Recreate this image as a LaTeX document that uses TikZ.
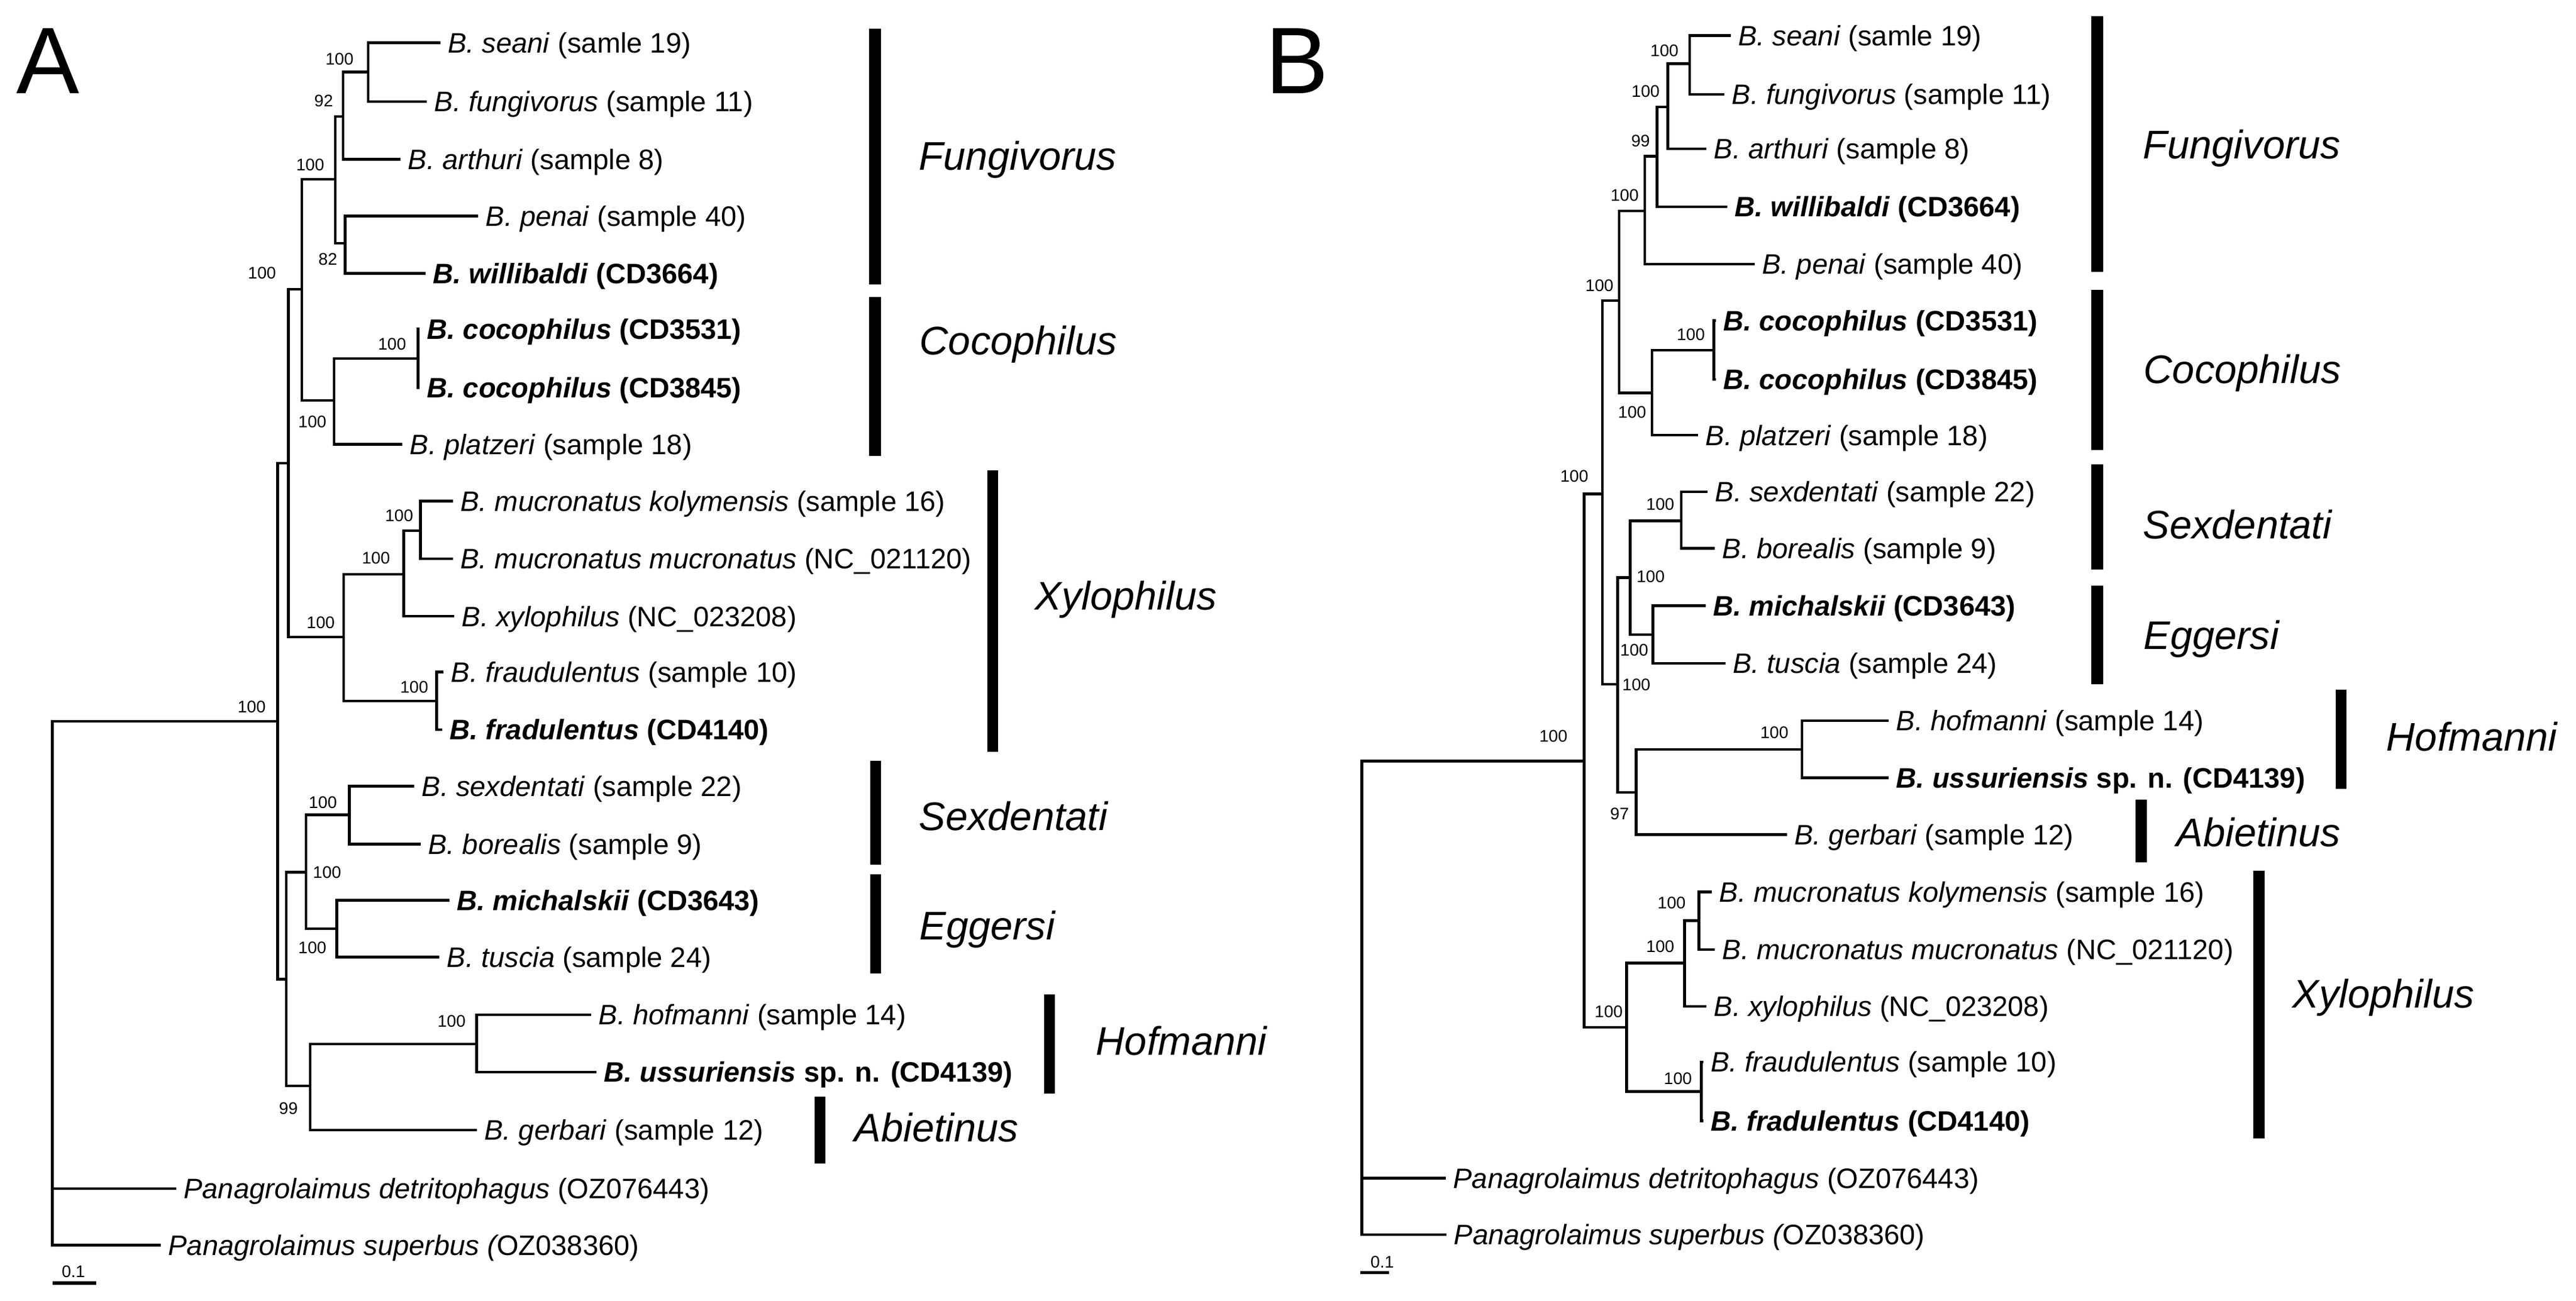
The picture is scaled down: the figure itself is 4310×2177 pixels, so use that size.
\documentclass[tikz,border=0pt]{standalone}
\usepackage{fontspec}
\setmainfont{Liberation Sans}
\usetikzlibrary{positioning}
\newcommand\leaffont{\fontsize{13.4}{16}\selectfont}
\newcommand\bootfont{\fontsize{8}{9.6}\selectfont}
\newcommand\cladefont{\fontsize{19}{23}\selectfont\itshape}
\newcommand\panelfont{\fontsize{45}{54}\selectfont}

\begin{document}
\begin{tikzpicture}[x=0.1mm, y=-0.1mm, node distance=1.2mm,
    branch/.style={line width=1.3pt},
    leaf/.style={inner sep=0pt, text height=9.6pt, text depth=0pt, font=\leaffont},
    boot/.style={inner sep=0pt, text height=5.7pt, text depth=0pt, font=\bootfont},
    clade/.style={anchor=west, inner sep=0pt, text height=13.6pt, text depth=0pt, font=\cladefont},
    cladebar/.style={fill=black},
    panel/.style={inner sep=0pt, text height=32.2pt, text depth=0pt, font=\panelfont}]
    \useasboundingbox (0,0) rectangle (4310,2177);

    % panel A
    \node[panel] (A) at (80.7,100) {A};
    \coordinate (aR) at (87.7,1700);
    \coordinate (aI) at (464.4,1206.8);
    \coordinate (aX1) at (482.6,775);
    \coordinate (aFC) at (505,484);
    \coordinate (aFu) at (561,300.2);
    \coordinate (aSFA) at (573.8,195);
    \coordinate (aSF) at (616,120.7);
    \coordinate (aPW) at (577.3,407);
    \coordinate (aCo) at (559,670);
    \coordinate (aCC) at (699.4,599.8);
    \coordinate (aXy) at (575.2,1066);
    \coordinate (aMX) at (675.5,961);
    \coordinate (aMM) at (703.6,888);
    \coordinate (aFF) at (730.5,1173.1);
    \coordinate (aX2) at (479.1,1638.2);
    \coordinate (aSE) at (512.1,1459.3);
    \coordinate (aSB) at (584.4,1363.2);
    \coordinate (aMT) at (563.3,1554);
    \coordinate (aHA) at (519.1,1817.1);
    \coordinate (aHU) at (797.6,1746.9);

    \coordinate (aL0) at (736.6,71.6);
    \coordinate (aL1) at (714,169.8);
    \coordinate (aL2) at (670,266.6);
    \coordinate (aL3) at (800,361.3);
    \coordinate (aL4) at (712,457.4);
    \coordinate (aL5) at (702,550.7);
    \coordinate (aL6) at (702,648.9);
    \coordinate (aL7) at (673,743.6);
    \coordinate (aL8) at (757.6,838.3);
    \coordinate (aL9) at (757.6,935.1);
    \coordinate (aL10) at (760,1031.2);
    \coordinate (aL11) at (742,1124.7);
    \coordinate (aL12) at (740,1220.8);
    \coordinate (aL13) at (693,1315.5);
    \coordinate (aL14) at (703.6,1412.3);
    \coordinate (aL15) at (752,1506.3);
    \coordinate (aL16) at (735,1601.7);
    \coordinate (aL17) at (989,1697.8);
    \coordinate (aL18) at (997.5,1794);
    \coordinate (aL19) at (797.6,1890.8);
    \coordinate (aL20) at (294.6,1989);
    \coordinate (aL21) at (268.7,2083.7);

    \foreach \p/\c in {aR/aI, aR/aL20, aR/aL21, aI/aX1, aI/aX2, aX1/aFC, aX1/aXy,
        aFC/aFu, aFC/aCo, aFu/aSFA, aFu/aPW, aSFA/aSF, aSFA/aL2, aSF/aL0, aSF/aL1,
        aPW/aL3, aPW/aL4, aCo/aCC, aCo/aL7, aCC/aL5, aCC/aL6, aXy/aMX, aXy/aFF,
        aMX/aMM, aMX/aL10, aMM/aL8, aMM/aL9, aFF/aL11, aFF/aL12, aX2/aSE, aX2/aHA,
        aSE/aSB, aSE/aMT, aSB/aL13, aSB/aL14, aMT/aL15, aMT/aL16, aHA/aHU, aHA/aL19,
        aHU/aL17, aHU/aL18}
      \draw[branch] (\p) |- (\c);

    \node[leaf, right=of aL0] (aT0) {\textit{B. seani} (samle 19)};
    \node[leaf, right=of aL1] (aT1) {\textit{B. fungivorus} (sample 11)};
    \node[leaf, right=of aL2] (aT2) {\textit{B. arthuri} (sample 8)};
    \node[leaf, right=of aL3] (aT3) {\textit{B. penai} (sample 40)};
    \node[leaf, right=of aL4] (aT4) {\textbf{\textit{B. willibaldi} (CD3664)}};
    \node[leaf, right=of aL5] (aT5) {\textbf{\textit{B. cocophilus} (CD3531)}};
    \node[leaf, right=of aL6] (aT6) {\textbf{\textit{B. cocophilus} (CD3845)}};
    \node[leaf, right=of aL7] (aT7) {\textit{B. platzeri} (sample 18)};
    \node[leaf, right=of aL8] (aT8) {\textit{B. mucronatus kolymensis} (sample 16)};
    \node[leaf, right=of aL9] (aT9) {\textit{B. mucronatus mucronatus} (NC\_021120)};
    \node[leaf, right=of aL10] (aT10) {\textit{B. xylophilus} (NC\_023208)};
    \node[leaf, right=of aL11] (aT11) {\textit{B. fraudulentus} (sample 10)};
    \node[leaf, right=of aL12] (aT12) {\textbf{\textit{B. fradulentus} (CD4140)}};
    \node[leaf, right=of aL13] (aT13) {\textit{B. sexdentati} (sample 22)};
    \node[leaf, right=of aL14] (aT14) {\textit{B. borealis} (sample 9)};
    \node[leaf, right=of aL15] (aT15) {\textbf{\textit{B. michalskii} (CD3643)}};
    \node[leaf, right=of aL16] (aT16) {\textit{B. tuscia} (sample 24)};
    \node[leaf, right=of aL17] (aT17) {\textit{B. hofmanni} (sample 14)};
    \node[leaf, right=of aL18] (aT18) {\textbf{\textit{B. ussuriensis} sp. n. (CD4139)}};
    \node[leaf, right=of aL19] (aT19) {\textit{B. gerbari} (sample 12)};
    \node[leaf, right=of aL20] (aT20) {\textit{Panagrolaimus detritophagus} (OZ076443)};
    \node[leaf, right=of aL21] (aT21) {{\itshape Panagrolaimus superbus (}OZ038360)};

    \path (aSF) + (-48,-22.7) node[boot] {100};
    \path (aSFA) + (-32.2,-26.6) node[boot] {92};
    \path (aFu) + (-42,-25.2) node[boot] {100};
    \path (aPW) + (-28.7,26.5) node[boot] {82};
    \path (aFC) + (-66.6,-28) node[boot] {100};
    \path (aCo) + (-36.4,35) node[boot] {100};
    \path (aCC) + (-43.4,-24.8) node[boot] {100};
    \path (aXy) + (-38.6,-24.3) node[boot] {100};
    \path (aMX) + (-46.5,-28) node[boot] {100};
    \path (aMM) + (-35.8,-25.1) node[boot] {100};
    \path (aFF) + (-37.5,-23.8) node[boot] {100};
    \path (aI) + (-43.4,-24.6) node[boot] {100};
    \path (aSB) + (-44.2,-21) node[boot] {100};
    \path (aSE) + (35.1,0) node[boot] {100};
    \path (aMT) + (-40.7,31.6) node[boot] {100};
    \path (aHA) + (-36.5,37.2) node[boot] {99};
    \path (aHU) + (-42.1,-38.5) node[boot] {100};

    \fill[cladebar] (1454.3,47.7) rectangle (1473.9,475.6);
    \node[clade] (aFun) at (1537,261) {Fungivorus};
    \fill[cladebar] (1454.3,496.7) rectangle (1473.9,763.2);
    \node[clade] (aCoc) at (1538,569.6) {Cocophilus};
    \fill[cladebar] (1652,787.1) rectangle (1670.3,1258);
    \node[clade] (aXyl) at (1731,996.2) {Xylophilus};
    \fill[cladebar] (1455.7,1273.4) rectangle (1473.9,1447.4);
    \node[clade] (aSex) at (1537,1365.7) {Sexdentati};
    \fill[cladebar] (1455.7,1462.8) rectangle (1473.9,1629.1);
    \node[clade] (aEgg) at (1538,1548.8) {Eggersi};
    \fill[cladebar] (1746.8,1664.2) rectangle (1765,1829.7);
    \node[clade] (aHof) at (1833,1741.3) {Hofmanni};
    \fill[cladebar] (1363,1834.6) rectangle (1381.3,1946.9);
    \node[clade] (aAbi) at (1429,1886.2) {Abietinus};

    \coordinate (aS0) at (87.7,2146.8);
    \coordinate (aS1) at (161.3,2146.8);
    \draw[line width=1.6pt] (aS0) -- (aS1);
    \node[boot] (aScale) at (122.8,2127.2) {0.1};

    % panel B
    \node[panel] (B) at (2170,100) {B};
    \coordinate (bR) at (2278.4,1700);
    \coordinate (bI) at (2650.2,1273.4);
    \coordinate (bBC) at (2681,826.4);
    \coordinate (bFC) at (2709.1,503);
    \coordinate (bFu) at (2751.9,352.9);
    \coordinate (bSAW) at (2772.2,261.7);
    \coordinate (bSFA) at (2790.5,178.9);
    \coordinate (bSF) at (2827,106.6);
    \coordinate (bCo) at (2763.8,657.3);
    \coordinate (bCC) at (2867.6,585.8);
    \coordinate (bSH) at (2706.3,1145);
    \coordinate (bSEm) at (2727.3,966.7);
    \coordinate (bSB) at (2813,871.3);
    \coordinate (bMT) at (2765.2,1061.9);
    \coordinate (bHA) at (2737.2,1326);
    \coordinate (bHU) at (3015,1253.8);
    \coordinate (bXy) at (2721.7,1718.9);
    \coordinate (bMX) at (2818.5,1611.5);
    \coordinate (bMM) at (2842.4,1540.7);
    \coordinate (bFF) at (2846.6,1826.2);

    \coordinate (bL0) at (2895.7,59.6);
    \coordinate (bL1) at (2885.2,157.8);
    \coordinate (bL2) at (2855,249);
    \coordinate (bL3) at (2890,345.8);
    \coordinate (bL4) at (2935.7,442);
    \coordinate (bL5) at (2870.6,536.7);
    \coordinate (bL6) at (2870.6,634.9);
    \coordinate (bL7) at (2841,728.2);
    \coordinate (bL8) at (2857,822.9);
    \coordinate (bL9) at (2869,917.6);
    \coordinate (bL10) at (2853.6,1013.7);
    \coordinate (bL11) at (2886.6,1110);
    \coordinate (bL12) at (3160.2,1206.1);
    \coordinate (bL13) at (3160.2,1301.5);
    \coordinate (bL14) at (2989.7,1396.2);
    \coordinate (bL15) at (2864.1,1492.3);
    \coordinate (bL16) at (2869,1589.1);
    \coordinate (bL17) at (2855,1683.8);
    \coordinate (bL18) at (2849.6,1777.1);
    \coordinate (bL19) at (2849.6,1875.3);
    \coordinate (bL20) at (2418.7,1971.4);
    \coordinate (bL21) at (2420,2066.1);

    \foreach \p/\c in {bR/bI, bR/bL20, bR/bL21, bI/bBC, bI/bXy, bBC/bFC, bBC/bSH,
        bFC/bFu, bFC/bCo, bFu/bSAW, bFu/bL4, bSAW/bSFA, bSAW/bL3, bSFA/bSF, bSFA/bL2,
        bSF/bL0, bSF/bL1, bCo/bCC, bCo/bL7, bCC/bL5, bCC/bL6, bSH/bSEm, bSH/bHA,
        bSEm/bSB, bSEm/bMT, bSB/bL8, bSB/bL9, bMT/bL10, bMT/bL11, bHA/bHU, bHA/bL14,
        bHU/bL12, bHU/bL13, bXy/bMX, bXy/bFF, bMX/bMM, bMX/bL17, bMM/bL15, bMM/bL16,
        bFF/bL18, bFF/bL19}
      \draw[branch] (\p) |- (\c);

    \node[leaf, right=of bL0] (bT0) {\textit{B. seani} (samle 19)};
    \node[leaf, right=of bL1] (bT1) {\textit{B. fungivorus} (sample 11)};
    \node[leaf, right=of bL2] (bT2) {\textit{B. arthuri} (sample 8)};
    \node[leaf, right=of bL3] (bT3) {\textbf{\textit{B. willibaldi} (CD3664)}};
    \node[leaf, right=of bL4] (bT4) {\textit{B. penai} (sample 40)};
    \node[leaf, right=of bL5] (bT5) {\textbf{\textit{B. cocophilus} (CD3531)}};
    \node[leaf, right=of bL6] (bT6) {\textbf{\textit{B. cocophilus} (CD3845)}};
    \node[leaf, right=of bL7] (bT7) {\textit{B. platzeri} (sample 18)};
    \node[leaf, right=of bL8] (bT8) {\textit{B. sexdentati} (sample 22)};
    \node[leaf, right=of bL9] (bT9) {\textit{B. borealis} (sample 9)};
    \node[leaf, right=of bL10] (bT10) {\textbf{\textit{B. michalskii} (CD3643)}};
    \node[leaf, right=of bL11] (bT11) {\textit{B. tuscia} (sample 24)};
    \node[leaf, right=of bL12] (bT12) {\textit{B. hofmanni} (sample 14)};
    \node[leaf, right=of bL13] (bT13) {\textbf{\textit{B. ussuriensis} sp. n. (CD4139)}};
    \node[leaf, right=of bL14] (bT14) {\textit{B. gerbari} (sample 12)};
    \node[leaf, right=of bL15] (bT15) {\textit{B. mucronatus kolymensis} (sample 16)};
    \node[leaf, right=of bL16] (bT16) {\textit{B. mucronatus mucronatus} (NC\_021120)};
    \node[leaf, right=of bL17] (bT17) {\textit{B. xylophilus} (NC\_023208)};
    \node[leaf, right=of bL18] (bT18) {\textit{B. fraudulentus} (sample 10)};
    \node[leaf, right=of bL19] (bT19) {\textbf{\textit{B. fradulentus} (CD4140)}};
    \node[leaf, right=of bL20] (bT20) {\textit{Panagrolaimus detritophagus} (OZ076443)};
    \node[leaf, right=of bL21] (bT21) {{\itshape Panagrolaimus superbus (}OZ038360)};

    \path (bSF) + (-42.1,-22.4) node[boot] {100};
    \path (bSFA) + (-37.2,-26) node[boot] {100};
    \path (bSAW) + (-27.3,-26.7) node[boot] {99};
    \path (bFu) + (-33.7,-26.7) node[boot] {100};
    \path (bFC) + (-33,-26) node[boot] {100};
    \path (bCC) + (-38.6,-26) node[boot] {100};
    \path (bCo) + (-32.9,32.3) node[boot] {100};
    \path (bBC) + (-47,-30.2) node[boot] {100};
    \path (bSB) + (-35.2,-27.4) node[boot] {100};
    \path (bSEm) + (34.4,-2.1) node[boot] {100};
    \path (bMT) + (-30.8,25.6) node[boot] {100};
    \path (bSH) + (31.6,0) node[boot] {100};
    \path (bI) + (-51.2,-42.1) node[boot] {100};
    \path (bHU) + (-46.3,-28.1) node[boot] {100};
    \path (bHA) + (-27.4,35.1) node[boot] {97};
    \path (bMM) + (-45.6,-30.2) node[boot] {100};
    \path (bMX) + (-40.7,-28) node[boot] {100};
    \path (bXy) + (-30.1,-26) node[boot] {100};
    \path (bFF) + (-39.3,-21.7) node[boot] {100};

    \fill[cladebar] (3499,26.7) rectangle (3518.7,454.6);
    \node[clade] (bFun) at (3585,242) {Fungivorus};
    \fill[cladebar] (3499,485.4) rectangle (3518.7,752.7);
    \node[clade] (bCoc) at (3586,618) {Cocophilus};
    \fill[cladebar] (3499,777.3) rectangle (3518.7,952.6);
    \node[clade] (bSex) at (3585,877.6) {Sexdentati};
    \fill[cladebar] (3499,980) rectangle (3518.7,1145);
    \node[clade] (bEgg) at (3586,1062.8) {Eggersi};
    \fill[cladebar] (3908,1154.2) rectangle (3925.5,1320.4);
    \node[clade] (bHof) at (3992,1232.4) {Hofmanni};
    \fill[cladebar] (3573.4,1338) rectangle (3592.3,1443.2);
    \node[clade] (bAbi) at (3641,1392.7) {Abietinus};
    \fill[cladebar] (3769.8,1456.5) rectangle (3788.7,1904.8);
    \node[clade] (bXyl) at (3835,1662.8) {Xylophilus};

    \coordinate (bS0) at (2276.3,2129.3);
    \coordinate (bS1) at (2324,2129.3);
    \draw[line width=1.6pt] (bS0) -- (bS1);
    \node[boot] (bScale) at (2312.7,2111.7) {0.1};
\end{tikzpicture}
\end{document}
